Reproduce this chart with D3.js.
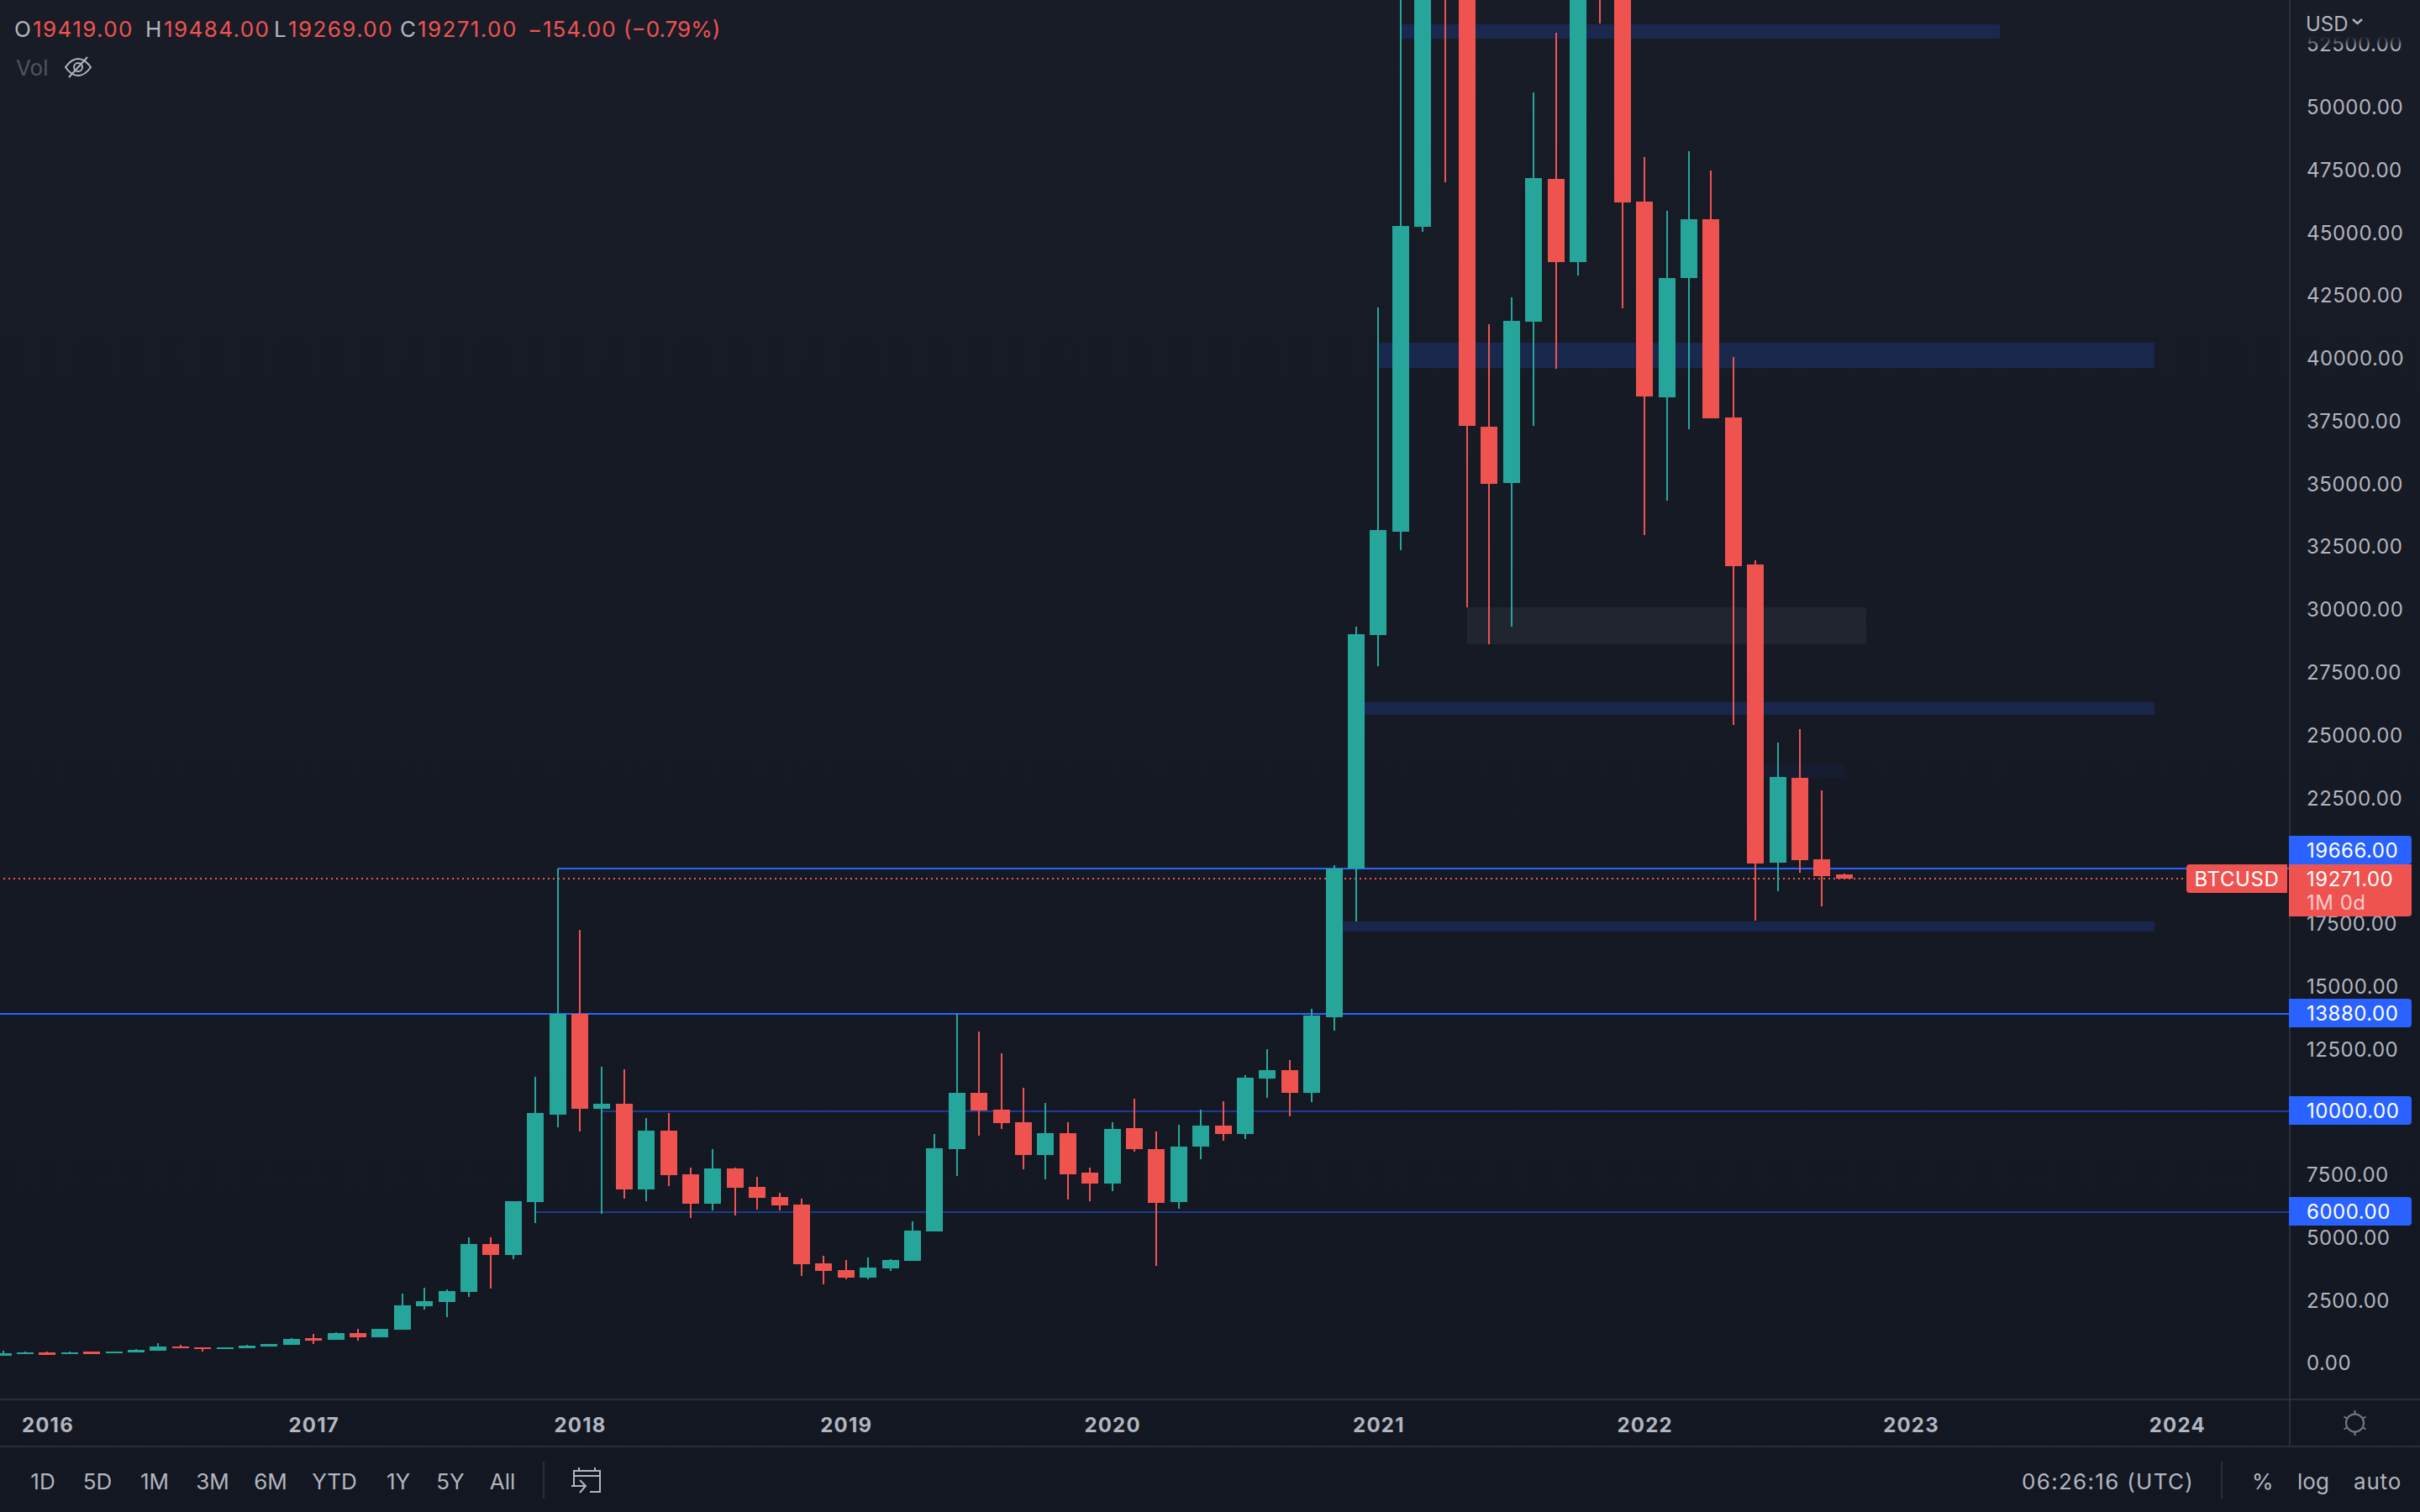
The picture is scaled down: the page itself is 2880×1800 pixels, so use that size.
<!DOCTYPE html>
<html>
<head>
<meta charset="utf-8">
<script src="https://cdn.jsdelivr.net/npm/d3@7/dist/d3.min.js"></script>
<style>
html,body{margin:0;padding:0;background:#131722;overflow:hidden}
svg{display:block}
text{font-family:Inter,"Noto Sans",sans-serif}
</style>
</head>
<body>
<svg id="c" width="2880" height="1800"></svg>
<script>
// ---- DATA: monthly candles, Nov 2015 to Oct 2022 ----
const firstMonth = "2015-11";
const opens = [277,344,411,330,445,378,411,478,645,612,545,578,645,712,980,913,1180,1013,1314,2250,2417,2818,4724,4290,6397,9872,13880,10106,10307,6897,9237,7498,6328,7732,6997,6596,6295,3955,3688,3386,3754,4055,5225,8501,10741,10072,9571,8267,9137,7565,7131,9337,8501,6395,8602,9437,9103,11309,11644,10741,13750,19667,28961,33072,45208,58800,57700,37252,35011,41430,47113,43804,61300,57000,46210,38421,43168,45508,37619,31769,19901,23278,20035,19419];
const highs = [478,445,445,445,445,445,545,779,712,612,612,712,745,980,1147,1213,1347,1347,2751,2985,2918,4980,4980,6430,11376,19666,17227,11778,11677,9738,9939,7766,8501,7766,7398,6763,6529,4256,4089,4189,4122,5626,9103,13880,13182,12312,10942,10340,9571,7766,9571,10507,9203,9471,10072,10407,11443,12479,12045,14084,19800,29295,41998,58300,61800,64895,59500,41330,42400,50556,52930,67000,69000,59000,47982,45843,48216,47447,40026,31936,24681,25216,22776,19484];
const lows = [277,344,311,330,345,378,411,478,578,445,545,578,645,712,745,913,879,1013,1314,2116,1815,2618,2951,4122,5557,9371,9203,5927,6529,6429,7030,5760,6061,5860,6094,6061,3453,3119,3320,3320,3654,4055,5225,7432,9036,9304,7699,7298,6495,6429,6830,8401,3854,6128,8100,8836,8902,10540,9805,10373,13215,17561,27723,32337,45006,46979,30064,28593,29295,37285,39558,43268,53298,41965,32939,34309,37151,37585,25383,17594,18764,19500,18163,19269];
const closes = [378,411,311,420,345,445,511,645,578,545,612,678,745,946,879,1180,1013,1347,2283,2451,2852,4724,4290,6430,9939,13880,10106,10307,6897,9237,7465,6328,7732,6963,6562,6261,3921,3654,3386,3788,4089,5259,8535,10741,10039,9538,8267,9137,7498,7131,9304,8501,6362,8602,9437,9103,11343,11644,10741,13817,19667,28994,33139,45241,58800,57700,37285,34978,41463,47146,43804,61300,57000,46177,38455,43168,45508,37585,31702,19867,23311,20001,19366,19271];

// price axis (20000 sits wholly behind the price tags in the reference)
const priceTicks = [0,2500,5000,7500,10000,12500,15000,17500,22500,25000,27500,30000,32500,35000,37500,40000,42500,45000,47500,50000,52500];
// time axis: month index (0 = Nov 2015) of each January
const yearLabels = ["2016","2017","2018","2019","2020","2021","2022","2023","2024"];
const yearIndex = [2,14,26,38,50,62,74,86,98];

// horizontal levels
const levelPrice = [19666,13880,10000,6000];
const levelStart = [25,-1,27,24];
const levelStrong = [true,true,false,false];

// shaded zones
const zoneStart = [63,62,66,61,79,60];
const zoneEnd = [90,97,84,97,83,97];
const zoneTop = [53264,40594,30064,26286,23846,17561];
const zoneBottom = [52696,39591,28593,25785,23278,17160];
const zoneFill = ["rgba(41,98,255,.18)","rgba(41,98,255,.18)","rgba(255,255,255,.05)","rgba(41,98,255,.18)","rgba(41,98,255,.055)","rgba(41,98,255,.18)"];

// header and toolbar text
const ohlcLabels = ["O","H","L","C"];
const ohlcValues = ["19419.00","19484.00","19269.00","19271.00"];
const changeText = ["\u2212154.00","(\u22120.79%)"];
const ranges = ["1D","5D","1M","3M","6M","YTD","1Y","5Y","All"];
const lastPrice = 19271;

// ---- LAYOUT ----
const W = 2880, H = 1800, axisX = 2724, plotBottom = 1666, timeBottom = 1722;
const green = "#26a69a", red = "#ef5350", blue = "#2962ff", grey = "#b2b5be", rule = "#2a2e39";

const x = d3.scaleLinear().domain([0,103]).range([3.6,2722.8]);
const y = d3.scaleLinear().domain([0,50000]).range([1622.3,126.8]);

const svg = d3.select("#c");
const defs = svg.append("defs");
const bg = defs.append("linearGradient").attr("id","bg").attr("x1",0).attr("x2",0).attr("y1",0).attr("y2",1);
bg.append("stop").attr("offset",0).attr("stop-color","#181c27");
bg.append("stop").attr("offset",1).attr("stop-color","#131722");
const fade = defs.append("linearGradient").attr("id","fade").attr("x1",0).attr("x2",0).attr("y1",0).attr("y2",1);
fade.append("stop").attr("offset",0.75).attr("stop-color","#181c27").attr("stop-opacity",1);
fade.append("stop").attr("offset",1).attr("stop-color","#181c27").attr("stop-opacity",0);
defs.append("clipPath").attr("id","plot").append("rect").attr("width",axisX).attr("height",plotBottom);

svg.append("rect").attr("width",W).attr("height",H).attr("fill","url(#bg)");

const plot = svg.append("g").attr("clip-path","url(#plot)");

// zones
plot.append("g").selectAll("rect").data(zoneStart).join("rect")
  .attr("x",(d)=>Math.round(x(d)))
  .attr("width",(d,i)=>Math.round(x(zoneEnd[i]))-Math.round(x(d)))
  .attr("y",(d,i)=>Math.round(y(zoneTop[i])))
  .attr("height",(d,i)=>Math.round(y(zoneBottom[i]))-Math.round(y(zoneTop[i])))
  .attr("fill",(d,i)=>zoneFill[i]);

// levels
plot.append("g").selectAll("rect").data(levelPrice).join("rect")
  .attr("x",(d,i)=>Math.round(x(levelStart[i])))
  .attr("width",(d,i)=>axisX-Math.round(x(levelStart[i])))
  .attr("y",d=>Math.round(y(d))-1)
  .attr("height",2)
  .attr("fill",(d,i)=>levelStrong[i]?blue:"#1e3a8f");

// last price dotted line
plot.append("line").attr("x1",4).attr("x2",2602)
  .attr("y1",Math.round(y(lastPrice))).attr("y2",Math.round(y(lastPrice)))
  .attr("stroke",red).attr("stroke-width",2).attr("stroke-dasharray","2 4");

// candles
const candles = plot.append("g").selectAll("g").data(opens).join("g")
  .attr("fill",(o,i)=>closes[i]>=o?green:red);
candles.append("rect")
  .attr("x",(o,i)=>Math.round(x(i))-1).attr("width",2)
  .attr("y",(o,i)=>Math.round(y(highs[i])))
  .attr("height",(o,i)=>Math.max(1,Math.round(y(lows[i]))-Math.round(y(highs[i]))));
candles.append("rect")
  .attr("x",(o,i)=>Math.round(x(i))-10).attr("width",20)
  .attr("y",(o,i)=>Math.round(y(Math.max(o,closes[i]))))
  .attr("height",(o,i)=>Math.max(2,Math.round(y(Math.min(o,closes[i])))-Math.round(y(Math.max(o,closes[i])))));

// frame rules
svg.append("rect").attr("x",0).attr("y",plotBottom-1).attr("width",W).attr("height",2).attr("fill",rule);
svg.append("rect").attr("x",0).attr("y",timeBottom-1).attr("width",W).attr("height",2).attr("fill",rule);
svg.append("rect").attr("x",axisX).attr("y",0).attr("width",2).attr("height",timeBottom).attr("fill",rule);

// price axis
const yAxis = svg.append("g").attr("transform",`translate(${axisX},1)`)
  .call(d3.axisRight(y).tickValues(priceTicks).tickFormat(d3.format(".2f")).tickSize(0).tickPadding(21));
yAxis.select(".domain").remove();
yAxis.selectAll("text").attr("font-family",'Inter,"Noto Sans",sans-serif').attr("font-size",24).attr("letter-spacing",0.5).attr("fill",grey).attr("text-anchor","start");

// top fade above the scale + currency
svg.append("rect").attr("x",axisX+2).attr("y",0).attr("width",W-axisX-2).attr("height",58).attr("fill","url(#fade)");
svg.append("text").attr("x",2744).attr("y",37).attr("font-size",24).attr("fill",grey).text("USD");
svg.append("path").attr("d","M2800 23l5.5 5 5.5-5").attr("fill","none").attr("stroke",grey).attr("stroke-width",2.4);

// time axis
const xAxis = svg.append("g").attr("transform",`translate(0,${plotBottom})`)
  .call(d3.axisBottom(x).tickValues(yearIndex).tickFormat((d,i)=>yearLabels[i]).tickSize(0).tickPadding(22));
xAxis.select(".domain").remove();
xAxis.selectAll("text").attr("font-family",'Inter,"Noto Sans",sans-serif').attr("font-size",24).attr("font-weight",700).attr("letter-spacing",1.2).attr("fill",grey);

// price tags
const tagPrice = [19666,13880,10000,6000];
const tagCentre = [1012,1206,1322,1442];
const tags = svg.append("g").selectAll("g").data(tagPrice).join("g");
tags.append("path").attr("fill",blue)
  .attr("d",(d,i)=>{const t=tagCentre[i]-17,b=t+34;return `M2724 ${t}H2866a4 4 0 0 1 4 4V${b-4}a4 4 0 0 1 -4 4H2724Z`;});
tags.append("text").attr("x",2745).attr("y",(d,i)=>tagCentre[i]+9).attr("font-size",24).attr("letter-spacing",0.5).attr("fill","#fff")
  .text(d=>d3.format(".2f")(d));

svg.append("path").attr("fill",red).attr("d","M2724 1029H2870V1087a4 4 0 0 1 -4 4H2724Z");
svg.append("text").attr("x",2745).attr("y",1055).attr("font-size",24).attr("letter-spacing",0.5).attr("fill","#fff").text(d3.format(".2f")(lastPrice));
svg.append("text").attr("x",2745).attr("y",1083).attr("font-size",24).attr("letter-spacing",0.5).attr("fill","rgba(255,255,255,.7)").text("1M 0d");
svg.append("path").attr("fill",red).attr("d","M2606 1029H2722V1063H2606a4 4 0 0 1 -4 -4V1033a4 4 0 0 1 4 -4Z");
svg.append("text").attr("x",2662).attr("y",1055).attr("text-anchor","middle").attr("font-size",24).attr("letter-spacing",0.6).attr("fill","#fff").text("BTCUSD");

// legend
const ohlcLabelX = [17,173,326,476], ohlcValueX = [39,195,343,497];
const legend = svg.append("g").attr("font-size",26);
legend.selectAll(".l").data(ohlcLabels).join("text").attr("class","l").attr("x",(d,i)=>ohlcLabelX[i]).attr("y",44).attr("fill",grey).text(d=>d);
legend.selectAll(".v").data(ohlcValues).join("text").attr("class","v").attr("x",(d,i)=>ohlcValueX[i]).attr("y",44).attr("letter-spacing",1.4).attr("fill",red).text(d=>d);
const changeX = [628,742], changeSpacing = [0.9,0];
legend.selectAll(".c").data(changeText).join("text").attr("class","c").attr("x",(d,i)=>changeX[i]).attr("y",44).attr("letter-spacing",(d,i)=>changeSpacing[i]).attr("fill",red).text(d=>d);
svg.append("text").attr("x",19).attr("y",90).attr("font-size",26).attr("fill","#50535e").text("Vol");
const eye = svg.append("g").attr("fill","none").attr("stroke",grey).attr("stroke-width",2);
eye.append("path").attr("d","M78 80q7-10 15-10q8 0 15 10q-7 10-15 10q-8 0-15-10Z");
eye.append("circle").attr("cx",93).attr("cy",80).attr("r",5);
eye.append("path").attr("d","M82 92L104 68");

// sun icon
const sun = svg.append("g").attr("transform","translate(2802.5,1694)").attr("fill","none").attr("stroke","#787b86").attr("stroke-width",2);
sun.append("circle").attr("r",10.5);
sun.selectAll("line").data(d3.range(6)).join("line")
  .attr("x1",d=>10.5*Math.cos(d*Math.PI/3+Math.PI/2)).attr("y1",d=>10.5*Math.sin(d*Math.PI/3+Math.PI/2))
  .attr("x2",d=>15*Math.cos(d*Math.PI/3+Math.PI/2)).attr("y2",d=>15*Math.sin(d*Math.PI/3+Math.PI/2));

// bottom toolbar
const rangeCentre = [51,116,184,253,322,398,474,536,598];
svg.append("g").attr("font-size",26).attr("fill",grey).selectAll("text").data(ranges).join("text")
  .attr("x",(d,i)=>rangeCentre[i]).attr("y",1773).attr("text-anchor","middle").text(d=>d);
svg.append("rect").attr("x",646).attr("y",1740).attr("width",2).attr("height",44).attr("fill",rule);
const cal = svg.append("g").attr("fill","none").attr("stroke",grey).attr("stroke-width",2);
cal.append("path").attr("d","M683 1768V1751H714V1776H702M683 1757H714M689 1747V1752M708 1747V1752M680 1769H696M690 1762L697 1769L690 1777");
svg.append("text").attr("x",2406).attr("y",1773).attr("font-size",26).attr("letter-spacing",1.3).attr("fill",grey).text("06:26:16 (UTC)");
svg.append("rect").attr("x",2643).attr("y",1740).attr("width",2).attr("height",44).attr("fill",rule);
svg.append("text").attr("x",2680).attr("y",1773).attr("font-size",26).attr("fill",grey).text("%");
svg.append("text").attr("x",2734).attr("y",1773).attr("font-size",26).attr("fill",grey).text("log");
svg.append("text").attr("x",2801).attr("y",1773).attr("font-size",26).attr("letter-spacing",0.8).attr("fill",grey).text("auto");
</script>
</body>
</html>
